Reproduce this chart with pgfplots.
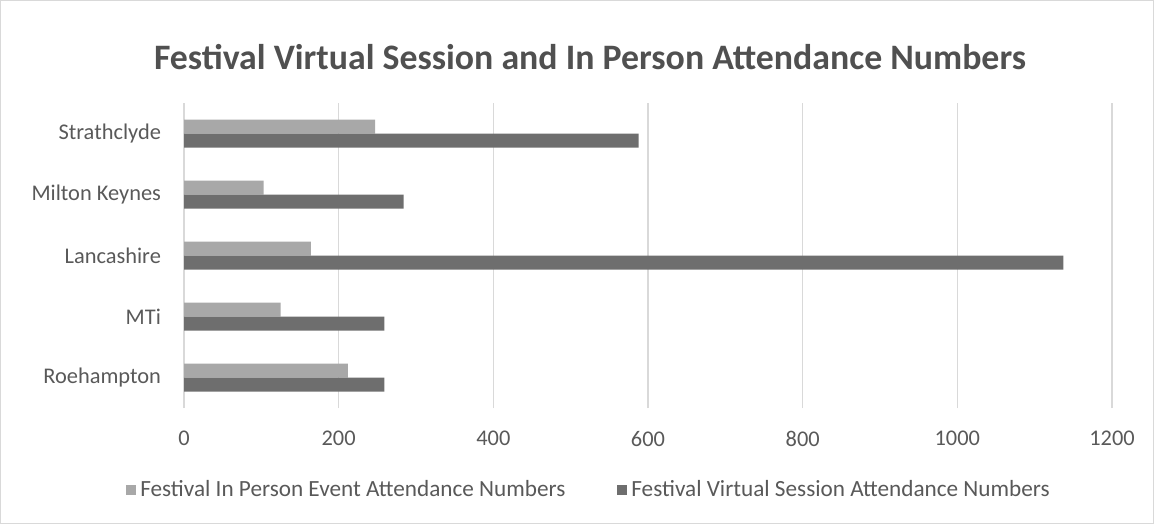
\documentclass[border=0pt]{standalone}
\usepackage{fontspec}
\setmainfont{Carlito}
\usepackage{pgfplots}
\pgfplotsset{compat=1.18}
\definecolor{inperson}{HTML}{A8A8A8}
\definecolor{virtual}{HTML}{6E6E6E}
\definecolor{txt}{HTML}{595959}
\definecolor{grid}{HTML}{D9D9D9}
\begin{document}
\begin{tikzpicture}
\draw[draw=grid, line width=0.4pt] (0.2pt,0.2pt) rectangle (576.8pt,261.8pt);
\node[font=\fontsize{17.9}{20}\selectfont\bfseries, text=txt!90!black] at (295pt,233.5pt) {Festival Virtual Session and In Person Attendance Numbers};
\begin{axis}[
  at={(92pt,58pt)}, anchor=south west,
  scale only axis, width=464pt, height=152.5pt,
  xbar, bar width=7pt,
  xmin=0, xmax=1200, ymin=-0.5, ymax=4.5,
  xtick={0,200,...,1200},
  ytick={0,1,2,3,4},
  yticklabels={Roehampton,MTi,Lancashire,Milton Keynes,Strathclyde},
  axis line style={draw=none},
  major tick length=0pt,
  xmajorgrids, grid style={draw=grid, line width=0.6pt},
  ymajorgrids=false,
  tick label style={font=\fontsize{11.2}{13}\selectfont, text=txt},
  /pgf/number format/assume math mode=true,
  /pgf/number format/1000 sep={},
  scaled x ticks=false,
  xticklabel style={yshift=-8pt},
  yticklabel style={xshift=-8pt},
  legend style={at={(0.4375,-0.27)}, anchor=center, draw=none, font=\fontsize{11.6}{13}\selectfont, text=txt, legend columns=2, /tikz/every even column/.append style={column sep=24pt}},
  legend image code/.code={\fill[#1] (0pt,-2.5pt) rectangle (5pt,2.5pt);},
]
\addplot[fill=inperson, draw=none, bar shift=3.5pt] coordinates {(212,0) (125,1) (164,2) (103,3) (247,4)};
\addplot[fill=virtual, draw=none, bar shift=-3.5pt] coordinates {(259,0) (259,1) (1137,2) (284,3) (588,4)};
\legend{Festival In Person Event Attendance Numbers, Festival Virtual Session Attendance Numbers}
\end{axis}
\end{tikzpicture}
\end{document}
